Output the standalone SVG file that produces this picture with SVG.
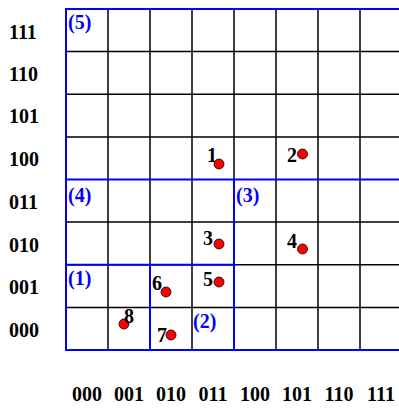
<svg xmlns="http://www.w3.org/2000/svg" width="399" height="408" viewBox="0 0 399 408">
<style>
.g{stroke:#000;stroke-width:1.5;fill:none}
.b{stroke:#0000ff;stroke-width:2;fill:none}
.t{font-family:"Liberation Serif",serif;font-weight:bold;font-size:20px;fill:#000}
.r{font-family:"Liberation Serif",serif;font-weight:bold;font-size:20px;fill:#0000ff}
.p{fill:#ff0000;stroke:#000;stroke-width:0.8}
.c{text-anchor:middle}
</style>
<rect width="399" height="408" fill="#fff"/>
<g id="grid">
<path class="g" d="M108 9V350M150 9V350M192 9V350M234 9V350M276 9V350M318 9V350M360 9V350M66 51.6H402M66 94.3H402M66 136.9H402M66 222.1H402M66 264.8H402M66 307.4H402"/>
</g>
<g id="connectors">
<path class="b" d="M66 9H402V350H66Z M66 179.5H402 M234 179.5V350 M66 264.8H234 M150 264.8V350"/>
</g>
<g id="row-labels" class="t">
<text x="9" y="39">111</text>
<text x="9" y="81">110</text>
<text x="9" y="123">101</text>
<text x="9" y="166">100</text>
<text x="9" y="209">011</text>
<text x="9" y="252">010</text>
<text x="9" y="294">001</text>
<text x="9" y="337">000</text>
</g>
<g id="col-labels" class="t c">
<text x="87" y="401">000</text>
<text x="129" y="401">001</text>
<text x="171" y="401">010</text>
<text x="213" y="401">011</text>
<text x="255" y="401">100</text>
<text x="297" y="401">101</text>
<text x="339" y="401">110</text>
<text x="381" y="401">111</text>
</g>
<g id="region1"><text class="r" x="68" y="285">(1)</text></g>
<g id="region2"><text class="r" x="193" y="328">(2)</text></g>
<g id="region3"><text class="r" x="236" y="202">(3)</text></g>
<g id="region4"><text class="r" x="68" y="202">(4)</text></g>
<g id="region5"><text class="r" x="68" y="29">(5)</text></g>
<g id="p1"><text class="t" x="207" y="162">1</text><circle class="p" cx="219" cy="164" r="5"/></g>
<g id="p2"><text class="t" x="287" y="162">2</text><circle class="p" cx="302.5" cy="154" r="5"/></g>
<g id="p3"><text class="t" x="203" y="245">3</text><circle class="p" cx="219" cy="244" r="5"/></g>
<g id="p4"><text class="t" x="287" y="248">4</text><circle class="p" cx="302.5" cy="249" r="5"/></g>
<g id="p5"><text class="t" x="203" y="286">5</text><circle class="p" cx="219" cy="282" r="5"/></g>
<g id="p6"><text class="t" x="152" y="290">6</text><circle class="p" cx="166" cy="292" r="5"/></g>
<g id="p7"><text class="t" x="157" y="342">7</text><circle class="p" cx="171" cy="335" r="5"/></g>
<g id="p8"><circle class="p" cx="124" cy="324" r="5"/><text class="t" x="124" y="323">8</text></g>
</svg>
